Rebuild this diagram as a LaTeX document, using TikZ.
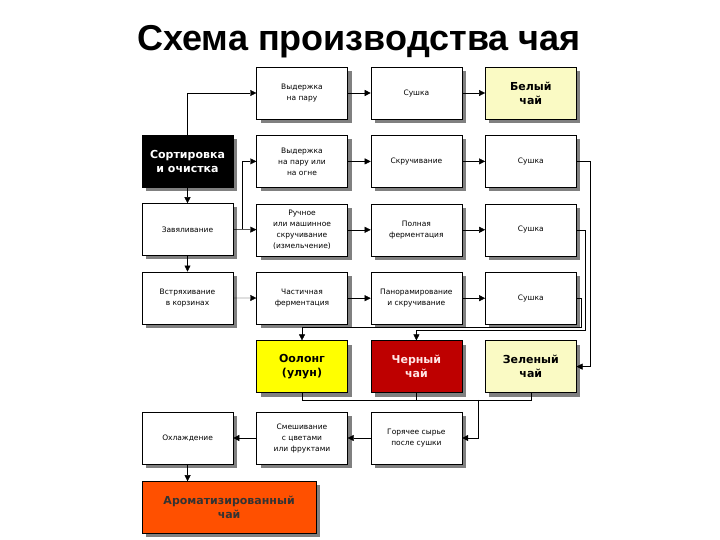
\documentclass[tikz,border=0pt]{standalone}
\usepackage{fontspec}
\setmainfont{DejaVu Sans}
\newfontfamily\titlefont{Liberation Sans}
\usetikzlibrary{arrows.meta,positioning,shadows}

\definecolor{paleyellow}{RGB}{250,250,196}
\definecolor{oolongyellow}{RGB}{255,255,0}
\definecolor{blackred}{RGB}{190,0,0}
\definecolor{aromaorange}{RGB}{255,80,0}

\begin{document}
\begin{tikzpicture}[
  x=1pt, y=1pt,
  font=\fontsize{7.5}{11}\selectfont,
  proc/.style={draw, fill=white, align=center, minimum width=91pt, minimum height=52pt,
    inner sep=1pt, drop shadow={shadow xshift=4pt, shadow yshift=-4pt, fill=black!50, opacity=1}},
  tea/.style={proc, font=\bfseries\fontsize{11}{14}\selectfont},
  arr/.style={-{Triangle[length=6pt, width=6pt]}},
  link/.style={draw}
]
  \useasboundingbox (0,0) rectangle (720,-540);
  \node[font=\titlefont\bfseries\fontsize{36}{40}\selectfont] (title) at (359,-42) {Схема производства чая};

  % left column
  \node[tea, fill=black, text=white] (sort) at (187.5,-161) {Сортировка\\и очистка};
  \node[proc, below=16pt of sort] (wither) {Завяливание};
  \node[proc, below=16pt of wither] (shake) {Встряхивание\\в корзинах};

  % white tea
  \node[proc] (steam) at (302,-93) {Выдержка\\на пару};
  \node[proc, right=23pt of steam] (dry1) {Сушка};
  \node[tea, fill=paleyellow, right=23pt of dry1] (white) {Белый\\чай};

  % green tea
  \node[proc, below=16pt of steam] (steamfire) {Выдержка\\на пару или\\на огне};
  \node[proc, right=23pt of steamfire] (twist) {Скручивание};
  \node[proc, right=23pt of twist] (dry2) {Сушка};

  % black tea
  \node[proc, below=16pt of steamfire] (roll) {Ручное\\или машинное\\скручивание\\(измельчение)};
  \node[proc, right=23pt of roll] (fullferm) {Полная\\ферментация};
  \node[proc, right=23pt of fullferm] (dry3) {Сушка};

  % oolong
  \node[proc, below=16pt of roll] (partferm) {Частичная\\ферментация};
  \node[proc, right=23pt of partferm] (pan) {Панорамирование\\и скручивание};
  \node[proc, right=23pt of pan] (dry4) {Сушка};

  % teas
  \node[tea, fill=oolongyellow, below=16pt of partferm] (oolong) {Оолонг\\(улун)};
  \node[tea, fill=blackred, text=red!10, right=23pt of oolong] (blacktea) {Черный\\чай};
  \node[tea, fill=paleyellow, right=23pt of blacktea] (green) {Зеленый\\чай};

  % flavouring
  \node[proc, below=19pt of blacktea] (hot) {Горячее сырье\\после сушки};
  \node[proc, left=23pt of hot] (mix) {Смешивание\\с цветами\\или фруктами};
  \node[proc, left=23pt of mix] (cool) {Охлаждение};
  \node[tea, fill=aromaorange, text=black!80, minimum width=174pt,
    below=17pt of cool.south west, anchor=north west] (aroma) {Ароматизированный\\чай};

  % connectors
  \draw[arr] (sort.north) |- (steam.west);
  \draw[arr] (sort) -- (wither);
  \draw[arr] (wither) -- (shake);
  \draw[arr] (wither) -- (roll);
  \coordinate (split) at ([xshift=9pt]wither.east);
  \draw[arr] (split) |- (steamfire.west);
  \draw[arr] (steam) -- (dry1);
  \draw[arr] (dry1) -- (white);
  \draw[arr] (steamfire) -- (twist);
  \draw[arr] (twist) -- (dry2);
  \draw[arr] (roll) -- (fullferm);
  \draw[arr] (fullferm) -- (dry3);
  \draw[arr] (shake) -- (partferm);
  \draw[arr] (partferm) -- (pan);
  \draw[arr] (pan) -- (dry4);
  \draw[arr] (dry2.east) -- ++(14,0) |- (green.east);
  \draw[arr] (dry3.east) -- ++(9,0) |- ([yshift=10pt]blacktea.north) -- (blacktea.north);
  \draw[arr] (dry4.east) -- ++(5,0) |- ([yshift=13pt]oolong.north) -- (oolong.north);
  \draw (oolong.south) -- ++(0,-7) coordinate (teabus) -| (green.south);
  \draw (blacktea.south) -- (blacktea.south |- teabus);
  \coordinate (hotin) at ([xshift=16pt]hot.east);
  \draw[arr] (hotin |- teabus) -- (hotin) -- (hot.east);
  \draw[arr] (hot) -- (mix);
  \draw[arr] (mix) -- (cool);
  \draw[arr] (cool.south) -- (cool.south |- aroma.north);
\end{tikzpicture}
\end{document}
